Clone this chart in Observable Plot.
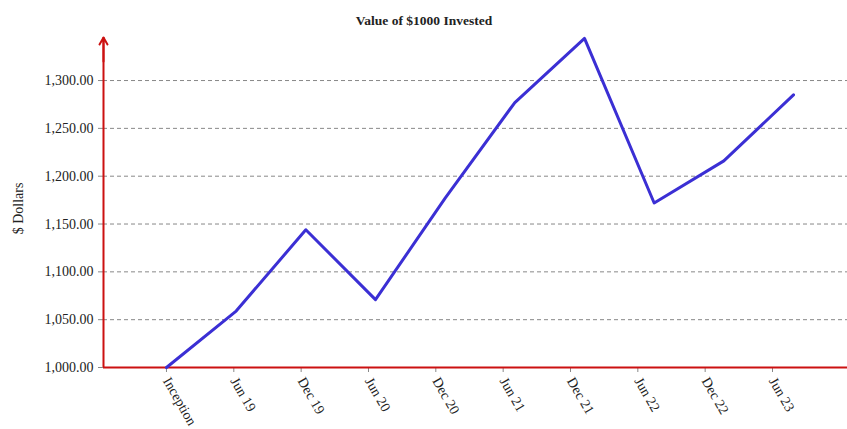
<!DOCTYPE html>
<html>
<head>
<meta charset="utf-8">
<script src="https://cdn.jsdelivr.net/npm/d3@7"></script>
<script src="https://cdn.jsdelivr.net/npm/@observablehq/plot@0.6"></script>
<style>
  html, body { margin: 0; padding: 0; background: #fff; }
</style>
</head>
<body>
<div id="chart"></div>
<script>
const title = "Value of $1000 Invested";
const yLabel = "$ Dollars";
const periods = ["Inception", "Jun 19", "Dec 19", "Jun 20", "Dec 20", "Jun 21", "Dec 21", "Jun 22", "Dec 22", "Jun 23"];
const values = [1000, 1059, 1144, 1071, 1177, 1277, 1344, 1172, 1216, 1285];
const yTicks = [1000, 1050, 1100, 1150, 1200, 1250, 1300];

// the original draws its category ticks on a slightly tighter spacing than the line points
const tickRatio = 0.9665;
const xDomain = [-0.904, 9.775];
const yDomain = [1000, 1345];

const data = periods.map((p, i) => ({i, period: p, value: values[i]}));
const xTicks = periods.map((p, i) => i * tickRatio);

const red = "#cc1111";
const chart = Plot.plot({
  width: 847,
  height: 429,
  marginLeft: 103,
  marginRight: 0,
  marginTop: 37,
  marginBottom: 62,
  style: {fontFamily: "Liberation Serif, Times New Roman, serif", fontSize: "14px", background: "#fff", color: "#222"},
  x: {domain: xDomain},
  y: {domain: yDomain},
  marks: [
    Plot.gridY({ticks: yTicks.slice(1), stroke: "#888", strokeOpacity: 1, strokeDasharray: "4,3"}),
    Plot.axisY({ticks: yTicks, tickFormat: d3.format(",.2f"), tickSize: 5, tickPadding: 5, stroke: "#888", label: null}),
    Plot.axisX({ticks: xTicks, tickFormat: d => periods[Math.round(d / tickRatio)], tickSize: 5, tickRotate: 60, stroke: "#888", label: null}),
    Plot.ruleX([xDomain[0]], {stroke: red, strokeWidth: 2}),
    Plot.ruleY([yDomain[0]], {stroke: red, strokeWidth: 2}),
    Plot.arrow([0], {x1: xDomain[0], x2: xDomain[0], y1: 1320, y2: yDomain[1], stroke: red, strokeWidth: 2, headLength: 8}),
    Plot.line(data, {x: "i", y: "value", stroke: "#3b2fd4", strokeWidth: 3}),
    Plot.text([title], {frameAnchor: "top", textAnchor: "middle", dx: -51.5, dy: -22, fontWeight: "bold", fontSize: 13.5}),
    Plot.text([yLabel], {frameAnchor: "left", textAnchor: "middle", dx: -85, dy: 6, rotate: -90, fontSize: 14})
  ]
});
document.getElementById("chart").appendChild(chart);
</script>
</body>
</html>
